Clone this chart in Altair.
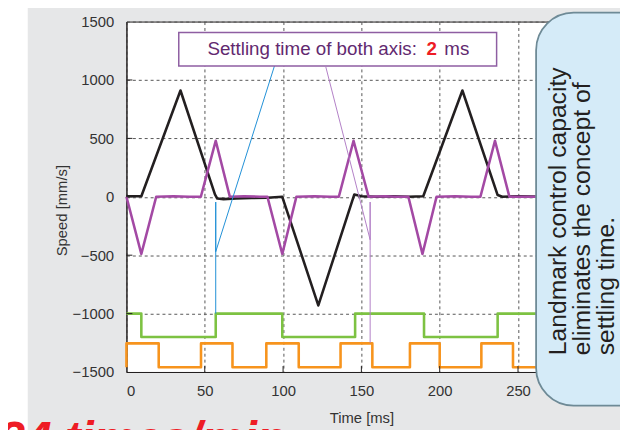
import altair as alt
import pandas as pd

# ---- values (time in ms, speed in mm/s) ----
x_axis_t = [0, 9.5, 34.5, 56.5, 58, 62, 70, 80, 90, 99.5, 122.5, 145.5, 150, 160, 170, 180,
            189.5, 214.5, 237, 240, 250, 268]
x_axis_v = [5, 5, 910, 20, -15, -20, -15, -10, -8, 0, -930, 20, 5, 0, 5, 0,
            5, 910, 15, 0, 5, 0]

y_axis_t = [0, 9.5, 19, 30, 40, 47.5, 57, 66, 75, 85,
            90, 99.5, 108.5, 120, 130, 135.6, 145, 154.6, 165, 172,
            180, 189, 198, 210, 220, 226, 235.3, 244.5, 268]
y_axis_v = [0, -490, 0, 5, 0, 0, 480, 0, 5, 0,
            0, -490, 0, 5, 0, 0, 480, 0, 5, 0,
            0, -490, 0, 5, 0, 0, 480, 0, 0]

green_switch_t = [9.5, 57, 99.5, 146, 190, 237]
green_levels = [-1000, -1200]
orange_switch_t = [0, 20.6, 47.6, 67.7, 89.3, 110, 136.7, 157, 181, 200, 226.6, 246.8]
orange_levels = [-1460, -1255]
signal_end_t = 268

blue_link_t = [57, 57, 57, 94.5]
blue_link_v = [-1000, -45, -470, 1120]
purple_link_t = [155.6, 155.6, 155.6, 127.3]
purple_link_v = [-1250, -45, -368, 1111]

x_ticks = [0, 50, 100, 150, 200, 250]
y_ticks = [-1500, -1000, -500, 0, 500, 1000, 1500]

series_names = ["X speed", "Y speed", "X signal", "Y signal"]
series_colors = ["#231f20", "#a349a4", "#7dc242", "#f7941d"]


def step_points(switches, levels, end):
    pts = [(0, levels[0])]
    k = 0
    for s in switches:
        pts.append((s, levels[k]))
        k = 1 - k
        pts.append((s, levels[k]))
    pts.append((end, levels[k]))
    return pts


rows = []
for name, ts, vs in [("X speed", x_axis_t, x_axis_v), ("Y speed", y_axis_t, y_axis_v)]:
    for i, (t, v) in enumerate(zip(ts, vs)):
        rows.append({"t": t, "v": v, "s": name, "i": i})
for name, sw, lv in [("X signal", green_switch_t, green_levels),
                     ("Y signal", orange_switch_t, orange_levels)]:
    for i, (t, v) in enumerate(step_points(sw, lv, signal_end_t)):
        rows.append({"t": t, "v": v, "s": name, "i": i})
df = pd.DataFrame(rows)
df["z"] = df["s"].map({"X signal": 0, "Y signal": 1, "X speed": 2, "Y speed": 3})

links = pd.DataFrame(
    [{"t": t, "v": v, "c": "blue", "i": i} for i, (t, v) in enumerate(zip(blue_link_t, blue_link_v))]
    + [{"t": t, "v": v, "c": "purple", "i": i} for i, (t, v) in enumerate(zip(purple_link_t, purple_link_v))]
)

xscale = alt.Scale(domain=[0, 300], nice=False, zero=False)
yscale = alt.Scale(domain=[-1500, 1500], nice=False, zero=False)
x_axis = alt.Axis(values=x_ticks, title="Time [ms]", format="d",
                  titleY=39, titleBaseline="top", labelPadding=12)
y_axis = alt.Axis(values=y_ticks, title="Speed [mm/s]", format="d",
                  titleX=-58, titleY=191, titleBaseline="bottom",
                  titleAngle=270, labelPadding=13)
X = alt.X("t:Q", scale=xscale, axis=x_axis)
Y = alt.Y("v:Q", scale=yscale, axis=y_axis)

FONT = "Liberation Sans"
one = pd.DataFrame({"a": [0]})

lines = alt.Chart(df).mark_line(strokeWidth=2.6, strokeJoin="round").encode(
    x=X, y=Y,
    color=alt.Color("s:N", scale=alt.Scale(domain=series_names, range=series_colors), legend=None),
    detail="z:Q",
    order="i:Q",
)

link_lines = alt.Chart(links).mark_line(strokeWidth=1).encode(
    x=X, y=Y,
    stroke=alt.Stroke("c:N", scale=alt.Scale(domain=["blue", "purple"], range=["#1f8fd6", "#b27fc6"]), legend=None),
    order="i:Q",
)

tick_y = alt.Chart(pd.DataFrame({"v": y_ticks[1:-1]})).mark_rule(color="#231f20", strokeWidth=1).encode(
    y=Y, x=alt.value(0), x2=alt.value(6))
tick_x = alt.Chart(pd.DataFrame({"t": x_ticks[1:]})).mark_rule(color="#231f20", strokeWidth=1).encode(
    x=X, y=alt.value(355), y2=alt.value(349))

left_strip = alt.Chart(one).mark_rect(color="white").encode(
    x=alt.value(-125), x2=alt.value(-100), y=alt.value(-20), y2=alt.value(420))

box = alt.Chart(one).mark_rect(fill="white", stroke="#8e5ea2", strokeWidth=1.5).encode(
    x=alt.value(53), x2=alt.value(375), y=alt.value(11), y2=alt.value(45))
box_t1 = alt.Chart(one).mark_text(font=FONT, fontSize=19, color="#62296f", align="left",
                                  baseline="alphabetic", text="Settling time of both axis:").encode(
    x=alt.value(82), y=alt.value(34))
box_t2 = alt.Chart(one).mark_text(font=FONT, fontSize=19, fontWeight="bold", color="#ee1c25",
                                  align="left", baseline="alphabetic", text="2").encode(
    x=alt.value(304), y=alt.value(34))
box_t3 = alt.Chart(one).mark_text(font=FONT, fontSize=19, color="#62296f", align="left",
                                  baseline="alphabetic", text="ms").encode(
    x=alt.value(322), y=alt.value(34))

callout = alt.Chart(one).mark_rect(fill="#d5ebf8", stroke="#6e8a96", strokeWidth=1.8,
                                   cornerRadius=38).encode(
    x=alt.value(415), x2=alt.value(560), y=alt.value(-9), y2=alt.value(389))
callout_lines = ["Landmark control capacity", "eliminates the concept of", "settling time."]
callout_x = [445, 469.5, 494]
callout_texts = [
    alt.Chart(one).mark_text(font=FONT, fontSize=25, color="#231f20", angle=270, align="left",
                             baseline="alphabetic", text=txt).encode(x=alt.value(px), y=alt.value(338))
    for txt, px in zip(callout_lines, callout_x)
]

red_text = alt.Chart(one).mark_text(font=FONT, fontSize=48, fontWeight="bold", fontStyle="italic",
                                    color="#ee1c25", align="left", baseline="alphabetic",
                                    text="334 times/min").encode(x=alt.value(-156), y=alt.value(439))

chart = alt.layer(
    left_strip, lines, link_lines, tick_y, tick_x, box, box_t1, box_t2, box_t3,
    callout, *callout_texts, red_text
).properties(
    width=476, height=355,
    padding={"left": 120, "top": 11, "right": 24, "bottom": 56},
    autosize=alt.AutoSizeParams(type="none"),
    background="#e6e7e8",
).configure_view(
    fill="white", stroke="#231f20", strokeWidth=1
).configure_axis(
    labelFont=FONT, titleFont=FONT, labelFontSize=15, titleFontSize=15,
    labelColor="#333333", titleColor="#333333", titleFontWeight="normal",
    domainColor="#231f20", domainWidth=1, ticks=False,
    gridColor="#555555", gridDash=[3, 3], gridWidth=1,
)

chart.save("out.html", embed_options={"renderer": "svg", "actions": False})
